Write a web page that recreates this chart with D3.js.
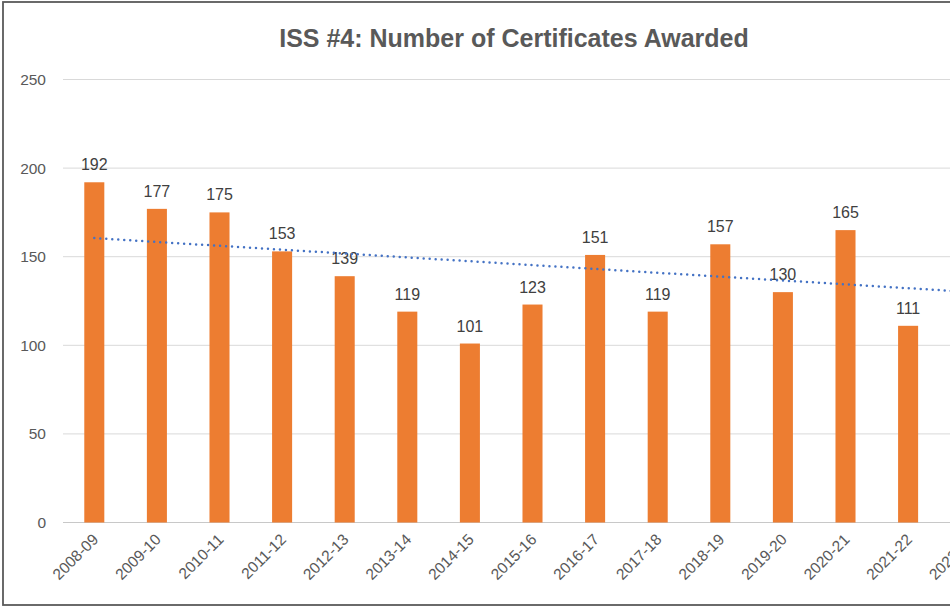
<!DOCTYPE html>
<html><head><meta charset="utf-8">
<script src="https://cdn.jsdelivr.net/npm/d3@7"></script>
<style>body{margin:0;background:#fff;}svg{display:block;}</style>
</head><body>
<svg id="c" width="950" height="608"></svg>
<script>
const categories = ["2008-09","2009-10","2010-11","2011-12","2012-13","2013-14","2014-15","2015-16","2016-17","2017-18","2018-19","2019-20","2020-21","2021-22","2022-23"];
const values = [192,177,175,153,139,119,101,123,151,119,157,130,165,111,167];
const yTicks = [0,50,100,150,200,250];
const title = "ISS #4: Number of Certificates Awarded";

const svg = d3.select("#c");
const font = "'Liberation Sans', Arial, sans-serif";
svg.append("rect").attr("x",3).attr("y",2).attr("width",1100).attr("height",603)
  .attr("fill","#fff").attr("stroke","#5a5a5a").attr("stroke-width",1.8);

const x = d3.scaleBand().domain(categories).range([63, 63 + 62.6*categories.length])
  .paddingInner(0.68).paddingOuter(0.34);
const y = d3.scaleLinear().domain([0,250]).range([522.5, 79.5]);

// gridlines
svg.append("g").selectAll("line").data(yTicks).join("line")
  .attr("x1",63).attr("x2",1100).attr("y1",d=>y(d)).attr("y2",d=>y(d))
  .attr("stroke",d=>d===0?"#c8c8c8":"#d9d9d9").attr("stroke-width",1);

// y axis labels
const ya = svg.append("g").attr("transform","translate(46,0)")
  .call(d3.axisLeft(y).tickValues(yTicks).tickSize(0).tickPadding(0));
ya.select(".domain").remove();
ya.selectAll("text").attr("font-family",font).attr("font-size",15.5).attr("fill","#595959");

// bars
svg.append("g").selectAll("rect").data(values).join("rect")
  .attr("x",(d,i)=>x(categories[i])).attr("width",x.bandwidth())
  .attr("y",d=>y(d)).attr("height",d=>y(0)-y(d)).attr("fill","#ED7D31");

// value labels
svg.append("g").selectAll("text").data(values).join("text")
  .attr("x",(d,i)=>x(categories[i])+x.bandwidth()/2).attr("y",d=>y(d)-12)
  .attr("text-anchor","middle").attr("font-family",font).attr("font-size",16)
  .attr("fill","#404040").text(d=>d);

// x axis labels
const xa = svg.append("g").attr("transform",`translate(0,${y(0)})`)
  .call(d3.axisBottom(x).tickSize(0).tickPadding(0));
xa.select(".domain").remove();
xa.selectAll("text").attr("font-family",font).attr("font-size",15.5).attr("fill","#595959")
  .attr("text-anchor","end").attr("dy",null).attr("y",0)
  .attr("transform","translate(5,18) rotate(-45)");

// linear trendline (least squares over the series)
const n = values.length;
const xs = values.map((d,i)=>i+1);
const mx = d3.mean(xs), my = d3.mean(values);
const slope = d3.sum(xs.map((xi,i)=>(xi-mx)*(values[i]-my))) / d3.sum(xs.map(xi=>(xi-mx)**2));
const icpt = my - slope*mx;
const trend = [0, n-1].map(i=>({c:categories[i], v:icpt + slope*(i+1)}));
svg.append("path").datum(trend)
  .attr("d", d3.line().x(d=>x(d.c)+x.bandwidth()/2).y(d=>y(d.v)))
  .attr("fill","none").attr("stroke","#4472C4").attr("stroke-width",2.5)
  .attr("stroke-linecap","round").attr("stroke-dasharray","0 6");

// title
svg.append("text").attr("x",514).attr("y",47).attr("text-anchor","middle")
  .attr("font-family",font).attr("font-weight","bold").attr("font-size",25)
  .attr("fill","#595959").text(title);
</script>
</body></html>
